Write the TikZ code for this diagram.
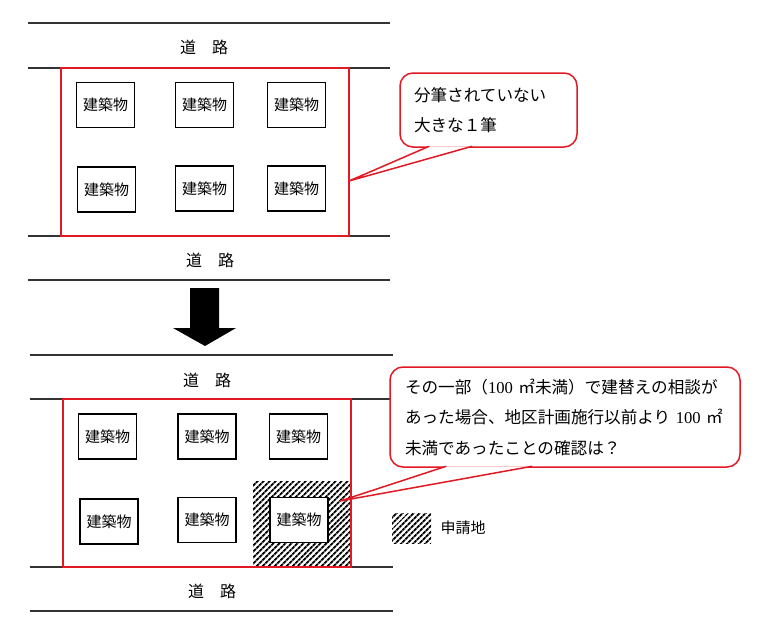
\documentclass[tikz,border=0pt]{standalone}
\usepackage{fontspec}
\setmainfont{Noto Sans CJK JP}
\newfontfamily\numfont{Liberation Serif}
\usetikzlibrary{positioning,calc,patterns.meta}
\definecolor{lotred}{RGB}{225,25,35}

\begin{document}
\begin{tikzpicture}[x=1pt,y=-1pt,
  road/.style={line width=1.1pt,black!80},
  lot/.style={draw=lotred,line width=1.2pt},
  bldg/.style={draw,line width=1.7pt,fill=white,minimum width=58pt,minimum height=45pt,inner sep=0pt,font=\fontsize{15}{15}\selectfont},
  roadlab/.style={font=\fontsize{16}{16}\selectfont},
  balloon/.style={draw=lotred,line width=1.5pt,fill=white,rounded corners=13pt,align=left,inner ysep=0pt,font=\fontsize{16.6}{30.5}\selectfont},
  tail/.style={draw=lotred,line width=1.5pt,fill=white,line join=miter},
  hatch/.style={pattern={Lines[angle=45,distance=4pt,line width=2pt]}}]
  \useasboundingbox (0,0) rectangle (765,635);

  \draw[road] (28,23) -- (390,23);
  \draw[road] (28,68) -- (390,68);
  \draw[road] (28,236) -- (390,236);
  \draw[road] (28,280) -- (390,280);
  \node[roadlab] (r1) at (204,47) {道　路};
  \node[roadlab] (r2) at (210,260) {道　路};
  \draw[lot] (61,68) rectangle (349,236);
  \foreach \n/\x/\y in {1/105.5/105,2/204.5/105,3/296.5/105,4/106.5/189.5,5/204.5/188.5,6/296.5/188.5}{
     \node[bldg] (t\n) at (\x,\y) {建築物};
  }
  \node[balloon,minimum width=177pt,minimum height=74pt,text width=149pt,inner xsep=14pt] (c1) at (488.5,110)
     {分筆されていない\\大きな１筆};
  \coordinate (p1) at (349,181);
  \filldraw[tail] ($(c1.south west)+(30,-1.5)$) -- (p1) -- ($(c1.south west)+(73,-1.5)$);

  \fill (190,288) -- (219,288) -- (219,328) -- (236,328) -- (205,346) -- (173,328) -- (190,328) -- cycle;

  \draw[road] (30,355) -- (393,355);
  \draw[road] (30,399) -- (393,399);
  \draw[road] (30,567) -- (393,567);
  \draw[road] (30,611) -- (393,611);
  \node[roadlab] (r3) at (207,380) {道　路};
  \node[roadlab] (r4) at (212,591) {道　路};
  \fill[hatch] (253,481) rectangle (351,567);
  \draw[lot] (63,399) rectangle (351,567);
  \foreach \n/\x/\y in {1/107.5/436.5,2/207/436.5,3/298.5/436.5,4/109/521.5,5/207/520,6/299/520}{
     \node[bldg] (b\n) at (\x,\y) {建築物};
  }
  \node[balloon,minimum width=350pt,minimum height=100pt,text width=320pt,inner xsep=15pt] (c2) at (565,417)
     {その一部（{\numfont 100}~㎡未満）で建替えの相談が\\あった場合、地区計画施行以前より~{\numfont 100}~㎡\\未満であったことの確認は？};
  \coordinate (p2) at (340,501);
  \filldraw[tail] ($(c2.south west)+(57,-1.5)$) -- (p2) -- ($(c2.south west)+(143,-1.5)$);

  \node[hatch,minimum width=39pt,minimum height=30pt,inner sep=0pt] (key) at (411.5,528) {};
  \node[font=\fontsize{15}{15}\selectfont,right=6pt of key] (keylab) {申請地};
\end{tikzpicture}
\end{document}
